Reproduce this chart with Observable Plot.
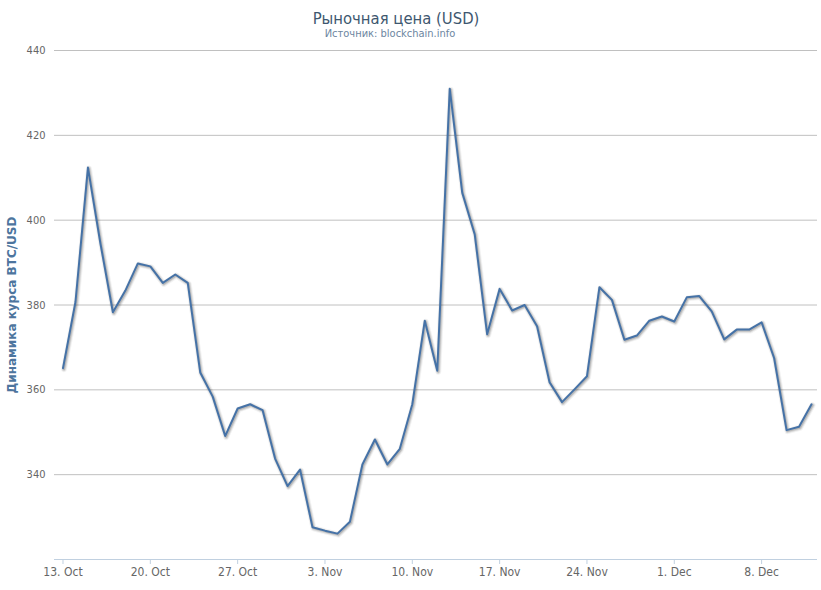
<!DOCTYPE html>
<html>
<head>
<meta charset="utf-8">
<script src="https://cdn.jsdelivr.net/npm/d3@7"></script>
<script src="https://cdn.jsdelivr.net/npm/@observablehq/plot@0.6"></script>
<style>
  html, body { margin: 0; padding: 0; background: #fff; }
  #chart { width: 821px; height: 590px; }
</style>
</head>
<body>
<div id="chart"></div>
<script>
const titleText = "Рыночная цена (USD)";
const subtitleText = "Источник: blockchain.info";
const yTitle = "Динамика курса BTC/USD";

const dates = [
  "2014-10-13","2014-10-14","2014-10-15","2014-10-16","2014-10-17","2014-10-18","2014-10-19",
  "2014-10-20","2014-10-21","2014-10-22","2014-10-23","2014-10-24","2014-10-25","2014-10-26",
  "2014-10-27","2014-10-28","2014-10-29","2014-10-30","2014-10-31","2014-11-01","2014-11-02",
  "2014-11-03","2014-11-04","2014-11-05","2014-11-06","2014-11-07","2014-11-08","2014-11-09",
  "2014-11-10","2014-11-11","2014-11-12","2014-11-13","2014-11-14","2014-11-15","2014-11-16",
  "2014-11-17","2014-11-18","2014-11-19","2014-11-20","2014-11-21","2014-11-22","2014-11-23",
  "2014-11-24","2014-11-25","2014-11-26","2014-11-27","2014-11-28","2014-11-29","2014-11-30",
  "2014-12-01","2014-12-02","2014-12-03","2014-12-04","2014-12-05","2014-12-06","2014-12-07",
  "2014-12-08","2014-12-09","2014-12-10","2014-12-11","2014-12-12"
];

const prices = [
  365.1, 380.7, 412.4, 394.5, 378.3, 383.4, 389.8,
  389.1, 385.2, 387.2, 385.2, 364.1, 358.4, 349.1,
  355.6, 356.6, 355.2, 343.8, 337.3, 341.2, 327.6,
  326.8, 326.1, 328.9, 342.4, 348.3, 342.4, 346.1,
  356.6, 376.3, 364.5, 431.0, 406.5, 396.7, 373.1,
  383.8, 378.7, 380.0, 375.0, 361.8, 357.1, 360.1,
  363.2, 384.2, 381.2, 371.8, 372.8, 376.3, 377.3,
  376.1, 381.8, 382.1, 378.5, 371.9, 374.2, 374.2,
  375.9, 367.5, 350.5, 351.3, 356.6
];

const yTicks = [340, 360, 380, 400, 420, 440];
const xTickDates = ["2014-10-13","2014-10-20","2014-10-27","2014-11-03","2014-11-10","2014-11-17","2014-11-24","2014-12-01","2014-12-08"];

const data = dates.map((d, i) => ({date: new Date(d + "T00:00:00Z"), price: prices[i]}));
const xTicks = xTickDates.map(d => new Date(d + "T00:00:00Z"));
const fmt = d3.utcFormat("%-d. %b");

const font = "'DejaVu Sans Condensed', 'DejaVu Sans', sans-serif";

const chart = Plot.plot({
  width: 821,
  height: 590,
  marginTop: 50,
  marginBottom: 31,
  marginLeft: 54,
  marginRight: 4,
  style: {fontFamily: font, background: "#fff", overflow: "visible"},
  x: {type: "utc", domain: [new Date("2014-10-12T07:40:00Z"), new Date("2014-12-12T11:30:00Z")]},
  y: {domain: [320, 440]},
  marks: [
    Plot.gridY(yTicks, {stroke: "#C0C0C0", strokeOpacity: 1, strokeWidth: 1}),
    Plot.ruleY([320], {stroke: "#C0D0E0", strokeWidth: 1}),
    Plot.axisY(yTicks, {tickSize: 0, tickPadding: 9, fill: "#666", fontSize: 11, label: null}),
    Plot.axisX(xTicks, {tickSize: 5, tickPadding: 3, stroke: "#C0D0E0", fill: "#666", fontSize: 12, tickFormat: fmt, label: null}),
    Plot.line(data, {x: "date", y: "price", stroke: "#000", strokeOpacity: 0.05, strokeWidth: 6, dx: 1, dy: 1, strokeLinejoin: "round"}),
    Plot.line(data, {x: "date", y: "price", stroke: "#000", strokeOpacity: 0.1, strokeWidth: 4, dx: 1, dy: 1, strokeLinejoin: "round"}),
    Plot.line(data, {x: "date", y: "price", stroke: "#000", strokeOpacity: 0.15, strokeWidth: 2, dx: 1, dy: 1, strokeLinejoin: "round"}),
    Plot.line(data, {x: "date", y: "price", stroke: "#4572A7", strokeWidth: 2, strokeLinejoin: "round"}),
    Plot.text([titleText], {text: d => d, frameAnchor: "top", lineAnchor: "middle", textAnchor: "middle", dx: -40, dy: -32, fontSize: 16.5, fill: "#3E576F"}),
    Plot.text([subtitleText], {text: d => d, frameAnchor: "top", lineAnchor: "middle", textAnchor: "middle", dx: -46, dy: -17, fontSize: 11, fill: "#6D869F"}),
    Plot.text([yTitle], {text: d => d, frameAnchor: "left", lineAnchor: "middle", textAnchor: "middle", rotate: -90, dx: -42, fontSize: 12, fontWeight: "bold", fill: "#4d759e", fontFamily: "'DejaVu Sans', sans-serif"})
  ]
});
document.getElementById("chart").appendChild(chart);
</script>
</body>
</html>
